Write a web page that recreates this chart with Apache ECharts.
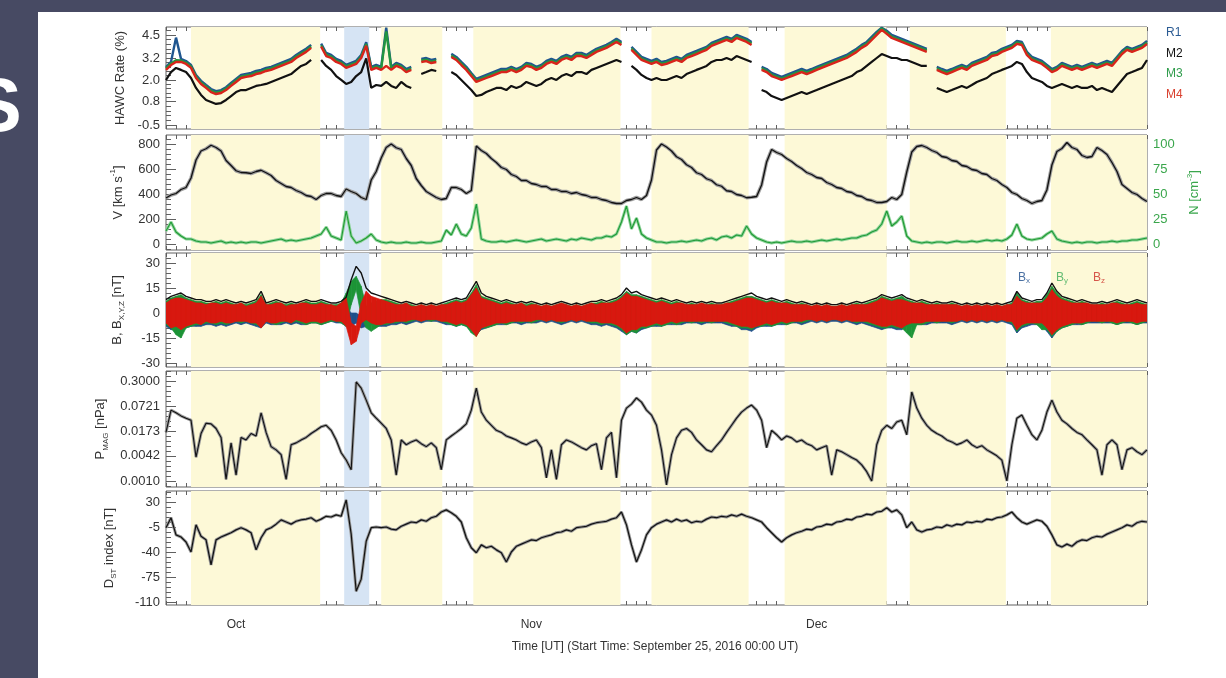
<!DOCTYPE html>
<html>
<head>
<meta charset="utf-8">
<script src="https://cdn.jsdelivr.net/npm/echarts@6/dist/echarts.min.js"></script>
<style>
html,body{margin:0;padding:0;background:#474a63;}
#chart{width:1226px;height:678px;}
</style>
</head>
<body>
<div id="chart"></div>
<script>
// Time base: days since 2016-09-25 00:00 UT, one sample every half day (197 samples).
const STEP = 0.5;

// HAWC scaler rates (%)
const hawcR1 = [
2.72,3.0,4.35,3.17,3.05,2.83,2.28,1.95,1.72,1.5,
1.38,1.44,1.6,1.84,2.06,2.28,2.34,2.39,2.5,2.56,
2.67,2.73,2.84,2.95,3.06,3.17,3.39,3.56,3.73,3.95,
null,4.02,3.5,3.39,3.17,3.06,2.84,2.95,3.06,3.39,
4.1,2.73,2.84,2.73,4.9,2.73,2.95,2.84,2.61,2.73,
null,3.17,3.22,3.11,3.17,null,null,3.45,3.28,3.0,
2.73,2.39,2.06,2.17,2.28,2.39,2.5,2.61,2.61,2.73,
2.61,2.73,2.95,2.89,2.73,2.84,3.06,3.17,3.06,3.28,
3.39,3.28,3.5,3.5,3.39,3.56,3.73,3.84,3.95,4.11,
4.28,4.11,null,3.84,3.56,3.28,3.17,3.06,3.17,3.0,
3.06,3.17,3.28,3.17,3.39,3.5,3.61,3.73,3.84,4.06,
4.17,4.28,4.39,4.28,4.5,4.39,4.28,4.11,null,2.73,
2.61,2.39,2.28,2.17,2.28,2.39,2.5,2.61,2.5,2.61,
2.73,2.84,2.95,3.06,3.17,3.28,3.39,3.56,3.73,3.95,
4.11,4.39,4.67,4.9,4.73,4.5,4.39,4.28,4.17,4.06,
3.95,3.84,3.73,null,2.73,2.61,2.5,2.61,2.73,2.84,
2.73,2.95,3.06,3.17,3.28,3.5,3.56,3.73,3.84,3.95,
4.17,4.11,3.56,3.28,3.17,3.06,2.84,2.61,2.73,2.95,
2.84,2.73,2.84,2.73,2.84,2.95,2.84,2.95,3.06,2.95,
3.28,3.61,3.84,3.73,3.84,3.95,4.17];
const hawcM2 = [
2.0,2.44,2.67,2.56,2.44,2.11,1.56,1.17,0.89,0.78,
0.67,0.72,0.89,1.11,1.33,1.44,1.44,1.56,1.67,1.72,
1.78,1.89,2.0,2.11,2.22,2.33,2.56,2.78,2.89,3.11,
null,3.11,2.78,2.56,2.22,2.0,1.78,1.89,2.22,2.44,
3.2,1.56,1.72,1.67,1.89,1.67,1.56,1.89,1.67,1.56,
null,2.33,2.44,2.56,2.5,null,null,2.44,2.28,2.0,
1.72,1.44,1.11,1.17,1.33,1.44,1.56,1.56,1.44,1.67,
1.56,1.67,1.89,1.78,1.67,1.78,2.0,2.11,2.0,2.22,
2.33,2.22,2.44,2.44,2.33,2.56,2.67,2.78,2.89,3.0,
3.11,3.0,null,2.78,2.56,2.28,2.11,2.0,2.11,2.0,
2.0,2.11,2.22,2.11,2.33,2.44,2.56,2.67,2.78,3.0,
3.11,3.11,3.22,3.11,3.33,3.22,3.11,3.0,null,1.44,
1.33,1.11,1.0,0.89,1.0,1.11,1.22,1.33,1.22,1.33,
1.44,1.56,1.67,1.78,1.89,2.0,2.11,2.22,2.44,2.56,
2.78,3.0,3.22,3.44,3.33,3.22,3.22,3.11,3.11,3.0,
2.89,2.78,2.78,null,1.56,1.44,1.33,1.44,1.56,1.67,
1.56,1.72,1.89,2.0,2.11,2.33,2.44,2.56,2.67,2.78,
3.0,2.89,2.44,2.11,2.0,1.89,1.67,1.56,1.67,1.78,
1.67,1.56,1.67,1.56,1.56,1.67,1.44,1.56,1.44,1.33,
1.67,2.0,2.33,2.44,2.56,2.67,3.11];
const hawcM3 = [
2.64,2.92,3.1,3.08,2.97,2.75,2.19,1.86,1.64,1.41,
1.3,1.36,1.52,1.75,1.97,2.19,2.25,2.3,2.41,2.47,
2.58,2.64,2.75,2.86,2.97,3.08,3.3,3.47,3.64,3.86,
null,3.93,3.41,3.3,3.08,2.97,2.75,2.86,2.97,3.3,
4.0,2.64,2.75,2.64,4.7,2.64,2.86,2.75,2.52,2.64,
null,3.08,3.13,3.02,3.08,null,null,3.36,3.19,2.91,
2.64,2.3,1.97,2.08,2.19,2.3,2.41,2.52,2.52,2.64,
2.52,2.64,2.86,2.8,2.64,2.75,2.97,3.08,2.97,3.19,
3.3,3.19,3.41,3.41,3.3,3.47,3.64,3.75,3.86,4.02,
4.19,4.02,null,3.75,3.47,3.19,3.08,2.97,3.08,2.91,
2.97,3.08,3.19,3.08,3.3,3.41,3.52,3.64,3.75,3.97,
4.08,4.19,4.3,4.19,4.41,4.3,4.19,4.02,null,2.64,
2.52,2.3,2.19,2.08,2.19,2.3,2.41,2.52,2.41,2.52,
2.64,2.75,2.86,2.97,3.08,3.19,3.3,3.47,3.64,3.86,
4.02,4.3,4.58,4.86,4.64,4.41,4.3,4.19,4.08,3.97,
3.86,3.75,3.64,null,2.64,2.52,2.41,2.52,2.64,2.75,
2.64,2.86,2.97,3.08,3.19,3.41,3.47,3.64,3.75,3.86,
4.08,4.02,3.47,3.19,3.08,2.97,2.75,2.52,2.64,2.86,
2.75,2.64,2.75,2.64,2.75,2.86,2.75,2.86,2.97,2.86,
3.19,3.52,3.75,3.64,3.75,3.86,4.08];
const hawcM4 = [
2.56,2.83,3.0,3.0,2.89,2.67,2.11,1.78,1.56,1.33,
1.22,1.28,1.44,1.67,1.89,2.11,2.17,2.22,2.33,2.39,
2.5,2.56,2.67,2.78,2.89,3.0,3.22,3.39,3.56,3.78,
null,3.85,3.33,3.22,3.0,2.89,2.67,2.78,2.89,3.22,
3.9,2.56,2.67,2.56,2.78,2.56,2.78,2.67,2.44,2.56,
null,3.0,3.05,2.94,3.0,null,null,3.28,3.11,2.83,
2.56,2.22,1.89,2.0,2.11,2.22,2.33,2.44,2.44,2.56,
2.44,2.56,2.78,2.72,2.56,2.67,2.89,3.0,2.89,3.11,
3.22,3.11,3.33,3.33,3.22,3.39,3.56,3.67,3.78,3.94,
4.11,3.94,null,3.67,3.39,3.11,3.0,2.89,3.0,2.83,
2.89,3.0,3.11,3.0,3.22,3.33,3.44,3.56,3.67,3.89,
4.0,4.11,4.22,4.11,4.33,4.22,4.11,3.94,null,2.56,
2.44,2.22,2.11,2.0,2.11,2.22,2.33,2.44,2.33,2.44,
2.56,2.67,2.78,2.89,3.0,3.11,3.22,3.39,3.56,3.78,
3.94,4.22,4.5,4.78,4.56,4.33,4.22,4.11,4.0,3.89,
3.78,3.67,3.56,null,2.56,2.44,2.33,2.44,2.56,2.67,
2.56,2.78,2.89,3.0,3.11,3.33,3.39,3.56,3.67,3.78,
4.0,3.94,3.39,3.11,3.0,2.89,2.67,2.44,2.56,2.78,
2.67,2.56,2.67,2.56,2.67,2.78,2.67,2.78,2.89,2.78,
3.11,3.44,3.67,3.56,3.67,3.78,4.0];

// Solar wind speed (km/s) and proton density (cm^-3)
const windSpeed = [
368,392,404,436,452,528,672,744,762,790,
772,744,668,628,586,572,570,564,580,590,
570,548,508,484,460,452,428,412,388,380,
356,388,404,404,388,380,440,420,404,372,
356,512,580,688,772,800,770,756,684,628,
524,468,420,396,372,356,364,452,452,436,
404,428,784,748,724,684,652,612,596,556,
540,508,508,484,476,460,460,436,436,420,
420,404,412,396,388,372,372,356,348,332,
324,324,348,356,372,356,388,512,752,800,
776,744,698,676,634,612,570,556,522,508,
474,462,426,420,396,388,370,374,380,472,
656,756,732,716,684,660,628,604,572,556,
532,524,492,476,452,444,420,412,388,380,
356,348,332,332,340,372,356,396,576,736,
780,788,772,748,732,700,692,668,660,628,
620,596,588,564,556,524,508,476,452,412,
396,364,348,324,340,348,432,632,740,764,
812,772,756,708,692,700,772,748,716,652,
580,476,444,412,396,364,340];
const density = [
13,22,12,8,5,5,3,2,2,1,
2,3,1,2,1,2,1,2,2,1,
2,3,4,5,3,4,3,4,5,6,
8,10,17,8,6,4,33,8,1,3,
6,10,4,2,1,2,1,1,2,1,
1,2,1,1,2,3,14,9,20,10,
8,16,40,5,3,2,2,3,2,3,
4,3,2,3,4,5,3,4,5,4,
3,5,4,6,5,4,6,6,8,7,
10,22,38,15,26,10,6,4,2,2,
1,2,2,3,2,3,4,3,5,6,
4,7,8,6,9,8,18,10,6,4,
2,1,2,1,2,3,2,2,3,2,
3,4,3,4,5,4,5,6,6,8,
9,12,14,20,33,18,22,28,8,3,
2,1,2,1,2,2,1,2,3,2,
2,3,2,3,4,3,4,3,5,9,
20,8,5,4,5,6,10,13,5,3,
2,1,2,1,2,2,1,2,2,3,
2,3,3,4,4,5,6];

// Magnetic field magnitude (nT)
const bTotal = [
8,10,11,12,10,9,8,8,7,7,
8,7,8,7,6,7,6,7,8,13,
6,7,8,7,6,7,6,7,8,7,
7,8,7,6,6,7,9.5,20,28,24,
15,12,11,10,9,8,7,6,7,6,
5,6,5,6,5,6,7,8,9,8,
9,14,19,12,10,9,8,7,8,7,
6,7,6,7,6,5,6,5,6,7,
6,5,6,5,6,7,7,8,7,8,
9,11,15,12,13,11,10,9,8,9,
8,7,8,7,6,7,6,7,6,7,
6,6,7,8,9,10,11,12,10,9,
8,9,8,7,8,7,6,7,6,5,
6,5,6,5,5,6,5,6,7,6,
7,8,9,11,10,9,10,11,9,8,
7,8,7,6,7,6,6,7,6,5,
6,5,6,5,6,5,6,5,6,7,
13,9,8,7,8,8,12,18,13,10,
9,8,7,8,7,6,6,7,6,7,
8,7,6,7,8,7,6];
// Component ranges (nT) within each half-day sample: low and high values
const bxLo = [
-8,-10,-10,-11,-9,-8,-8,-8,-7,-7,
-8,-7,-8,-7,-6,-7,-6,-7,-8,-9,
-6,-7,-7,-7,-6,-7,-6,-7,-7,-6,
-6,-7,-6,-5,-6,-6,-8,-8,-6,-9,
-8,-7,-8,-8,-8,-7,-7,-6,-7,-6,
-5,-6,-5,-5,-5,-6,-7,-7,-8,-7,
-8,-11,-13,-10,-9,-8,-7,-7,-7,-6,
-6,-7,-6,-6,-6,-5,-6,-5,-6,-7,
-6,-5,-6,-5,-6,-7,-7,-8,-7,-8,
-9,-11,-13,-11,-12,-10,-9,-8,-8,-8,
-7,-7,-7,-7,-6,-6,-6,-7,-6,-6,
-6,-6,-7,-8,-8,-10,-10,-11,-9,-8,
-8,-8,-7,-7,-7,-6,-6,-7,-6,-5,
-6,-5,-6,-5,-5,-6,-5,-6,-7,-6,
-7,-8,-9,-10,-9,-9,-10,-10,-8,-8,
-7,-7,-7,-6,-6,-6,-6,-7,-6,-5,
-6,-5,-6,-5,-6,-5,-6,-5,-6,-7,
-12,-9,-8,-7,-7,-8,-11,-15,-11,-9,
-8,-7,-7,-7,-6,-6,-6,-6,-6,-6,
-7,-6,-6,-6,-7,-6,-6];
const bxHi = [
4,5,5,6,4,4,3,3,3,3,
3,3,3,3,2,3,2,3,3,5,
2,3,3,3,2,3,2,3,3,3,
3,3,3,2,2,3,4,0,0,-2,
2,3,3,3,3,3,3,2,3,2,
2,2,2,2,2,2,3,3,3,3,
3,5,7,5,4,3,3,3,3,3,
2,3,2,3,2,2,2,2,2,3,
2,2,2,2,2,3,3,3,3,3,
4,5,6,5,5,4,4,3,3,3,
3,3,3,3,2,3,2,3,2,3,
2,2,3,3,3,4,4,5,4,3,
3,3,3,3,3,3,2,3,2,2,
2,2,2,2,2,2,2,2,3,2,
3,3,4,4,4,3,4,4,3,3,
3,3,3,2,3,2,2,3,2,2,
2,2,2,2,2,2,2,2,2,3,
5,3,3,3,3,3,5,7,5,4,
3,3,3,3,3,2,2,3,2,3,
3,3,2,3,3,3,2];
const byLo = [
-7,-9,-13,-15,-9,-8,-7,-7,-6,-6,
-7,-6,-7,-6,-5,-6,-5,-6,-7,-8,
-5,-6,-7,-6,-5,-6,-5,-6,-7,-6,
-6,-7,-6,-5,-5,-6,-8,5,14,-2,
-9,-11,-9,-7,-7,-6,-6,-5,-6,-5,
-4,-5,-4,-5,-4,-5,-6,-7,-8,-7,
-8,-12,-14,-9,-9,-8,-7,-6,-7,-6,
-5,-6,-5,-6,-5,-4,-5,-4,-5,-6,
-5,-4,-5,-4,-5,-6,-6,-7,-6,-7,
-8,-10,-13,-11,-12,-9,-9,-8,-7,-8,
-7,-6,-7,-6,-5,-6,-5,-6,-5,-6,
-5,-5,-6,-7,-8,-9,-9,-10,-8,-8,
-7,-8,-7,-6,-7,-6,-5,-6,-5,-4,
-5,-4,-5,-4,-4,-5,-4,-5,-6,-5,
-6,-7,-8,-9,-9,-8,-9,-9,-12,-15,
-7,-7,-6,-5,-6,-5,-5,-6,-5,-4,
-5,-4,-5,-4,-5,-4,-5,-4,-5,-6,
-11,-8,-7,-6,-7,-10,-10,-14,-11,-9,
-8,-7,-6,-7,-6,-5,-5,-6,-5,-6,
-7,-6,-5,-6,-7,-6,-5];
const byHi = [
7,9,10,11,9,8,7,7,6,6,
7,6,7,6,5,6,5,6,7,11,
5,6,7,6,5,6,5,6,7,6,
6,7,6,5,5,6,12,19,22,16,
4,6,7,8,8,7,6,5,6,5,
4,5,4,5,4,5,6,7,8,7,
8,12,17,10,9,8,7,6,7,6,
5,6,5,6,5,4,5,4,5,6,
5,4,5,4,5,6,6,7,6,7,
8,10,13,11,11,10,9,8,7,8,
7,6,7,6,5,6,5,6,5,6,
5,5,6,7,8,9,10,10,9,8,
7,8,7,6,7,6,5,6,5,4,
5,4,5,4,4,5,4,5,6,5,
6,7,8,10,9,8,9,10,8,7,
6,7,6,5,6,5,5,6,5,4,
5,4,5,4,5,4,5,4,5,6,
12,8,7,6,7,7,11,16,12,9,
8,7,6,7,6,5,5,6,5,6,
7,6,5,6,7,6,5];
const bzLo = [
-6,-9,-8,-10,-8,-7,-6,-7,-5,-6,
-6,-5,-6,-6,-5,-5,-5,-6,-6,-9,
-5,-6,-6,-5,-5,-6,-4,-5,-6,-5,
-5,-6,-5,-4,-5,-5,-8,-19,-17,-6,
-4,-6,-7,-7,-6,-6,-5,-5,-5,-4,
-4,-5,-4,-4,-4,-5,-5,-6,-7,-6,
-7,-10,-14,-9,-8,-7,-6,-6,-6,-5,
-5,-5,-5,-5,-4,-4,-5,-4,-5,-5,
-5,-4,-5,-4,-5,-5,-5,-6,-6,-6,
-7,-9,-12,-10,-10,-8,-8,-7,-6,-7,
-6,-5,-6,-5,-5,-5,-5,-5,-5,-5,
-5,-5,-5,-6,-7,-8,-8,-9,-8,-7,
-6,-7,-6,-5,-6,-5,-5,-5,-4,-4,
-5,-4,-5,-4,-4,-5,-4,-5,-5,-5,
-5,-6,-7,-8,-8,-7,-8,-9,-7,-6,
-6,-6,-5,-5,-5,-5,-5,-5,-5,-4,
-5,-4,-5,-4,-5,-4,-5,-4,-5,-5,
-10,-7,-6,-6,-6,-6,-9,-13,-10,-8,
-7,-6,-6,-6,-5,-5,-5,-5,-5,-5,
-6,-5,-5,-5,-6,-5,-5];
const bzHi = [
6,8,9,9,8,7,6,6,5,6,
6,5,6,5,5,6,4,5,6,10,
5,5,6,6,4,5,5,6,6,5,
5,6,5,5,4,6,9,-6,-8,6,
13,10,9,8,7,6,5,5,6,4,
4,5,4,5,4,5,5,6,7,6,
7,11,15,9,8,7,6,5,6,5,
5,6,4,5,5,4,5,4,5,6,
5,4,5,4,5,6,5,6,6,6,
7,9,12,10,10,9,8,7,6,7,
6,5,6,6,5,5,5,6,5,5,
5,5,6,6,7,8,9,9,8,7,
6,7,6,6,6,5,5,5,5,4,
5,4,5,4,4,5,4,5,5,5,
5,6,7,9,8,7,8,8,7,6,
6,6,5,5,5,5,5,5,5,4,
5,4,5,4,5,4,5,4,5,5,
10,7,6,6,6,6,9,14,10,8,
7,6,6,6,6,5,5,5,5,6,
6,5,5,5,6,5,5];

// Magnetic pressure (nPa)
const pMag = [
0.016,0.057,0.049,0.041,0.036,0.032,0.0039,0.015,0.027,0.026,
0.020,0.012,0.0011,0.0088,0.0014,0.012,0.0104,0.015,0.013,0.049,
0.016,0.0071,0.0059,0.0045,0.0011,0.0079,0.0088,0.0104,0.012,0.015,
0.018,0.022,0.024,0.018,0.0104,0.0050,0.0033,0.0019,0.284,0.20,
0.101,0.049,0.036,0.027,0.020,0.0104,0.0014,0.0104,0.0079,0.0093,
0.0104,0.0084,0.0071,0.0088,0.0067,0.0019,0.0104,0.013,0.016,0.020,
0.026,0.057,0.20,0.051,0.032,0.024,0.018,0.016,0.013,0.0117,
0.0104,0.0088,0.0079,0.0093,0.0104,0.0067,0.0012,0.0059,0.0011,0.0079,
0.0104,0.0093,0.0079,0.0067,0.0059,0.0075,0.0084,0.0019,0.0117,0.016,
0.0012,0.032,0.064,0.080,0.114,0.090,0.057,0.043,0.024,0.0059,
0.0008,0.0045,0.0117,0.018,0.020,0.016,0.0104,0.0079,0.0059,0.0053,
0.0075,0.0104,0.016,0.024,0.036,0.051,0.064,0.076,0.057,0.032,
0.0067,0.018,0.014,0.0104,0.013,0.0117,0.0093,0.0104,0.0084,0.0075,
0.0059,0.0067,0.0075,0.0014,0.0059,0.0053,0.0045,0.0038,0.0033,0.0025,
0.0017,0.0010,0.0079,0.018,0.024,0.020,0.029,0.032,0.014,0.160,
0.064,0.036,0.024,0.018,0.015,0.013,0.0104,0.0093,0.0079,0.0088,
0.0104,0.0079,0.0067,0.0075,0.0059,0.0050,0.0042,0.0033,0.0010,0.0079,
0.036,0.043,0.024,0.014,0.0104,0.018,0.051,0.101,0.051,0.032,
0.026,0.020,0.016,0.014,0.0104,0.0079,0.0059,0.0014,0.0079,0.0104,
0.0079,0.0019,0.0059,0.0067,0.0053,0.0045,0.0059];

// Dst index (nT)
const dst = [
-6,8,-16,-19,-26,-40,-2,-18,-23,-58,
-23,-19,-16,-13,-9,-6,-9,-13,-37,-20,
-9,-6,-1,5,2,-1,3,5,6,8,
3,6,10,9,12,10,33,-15,-95,-78,
-25,-6,-5,-6,-5,-8,-9,-4,-1,2,
1,5,3,8,10,16,19,15,10,2,
-20,-34,-41,-30,-34,-32,-37,-41,-54,-40,
-32,-29,-26,-23,-24,-20,-18,-16,-13,-12,
-9,-11,-6,-5,-4,-1,1,2,3,6,
8,16,-2,-30,-54,-37,-16,-6,-1,2,
5,2,6,3,5,1,3,2,6,9,
8,10,9,12,10,13,10,8,5,2,
-6,-13,-20,-26,-20,-16,-13,-11,-8,-9,
-5,-4,-1,-2,2,3,6,5,9,10,
13,12,16,17,22,16,19,12,-6,2,
-9,-12,-9,-8,-5,-6,-2,-4,-1,-2,
2,1,3,2,6,5,8,9,12,16,
8,2,-1,2,5,3,-4,-16,-30,-33,
-29,-32,-26,-23,-24,-20,-18,-19,-15,-12,
-9,-6,-2,-4,1,3,2];

// Intervals (days) of high-speed streams and of the interplanetary CME
const streamPeriods = [[2.5,15.4],[21.5,27.6],[30.7,45.4],[48.5,58.2],[61.8,72.0],[74.3,83.9],[88.4,98]];
const cmePeriods = [[17.8,20.3]];

// Tick values and labels
const monthTicks = [7, 36.5, 65];
const monthLabels = ['Oct', 'Nov', 'Dec'];
const hawcTicks = [-0.5, 0.8, 2.0, 3.2, 4.5];
const hawcTickLabels = ['-0.5', '0.8', '2.0', '3.2', '4.5'];
const vTicks = [0, 200, 400, 600, 800];
const nTicks = [0, 25, 50, 75, 100];
const bTicks = [-30, -15, 0, 15, 30];
const pTicks = [0.0010, 0.0042, 0.0173, 0.0721, 0.3000];
const pTickLabels = ['0.0010', '0.0042', '0.0173', '0.0721', '0.3000'];
const dstTicks = [-110, -75, -40, -5, 30];

// ---------------------------------------------------------------------------
const FONT = '"Liberation Sans", Arial, Helvetica, sans-serif';
const INK = '#333333';
const FRAME = '#606060';
const GREEN_AX = '#3aa64c';
const DAYS = 98;

const toPairs = (arr, tf) => arr.map((v, k) => [k * STEP, v == null ? null : (tf ? tf(v) : v)]);

function minors(ticks, min, max, n) {
  const out = [];
  for (let k = 0; k < ticks.length - 1; k++) {
    const d = (ticks[k + 1] - ticks[k]) / n;
    for (let s = 1; s < n; s++) out.push(ticks[k] + s * d);
  }
  const d0 = (ticks[1] - ticks[0]) / n;
  const d1 = (ticks[ticks.length - 1] - ticks[ticks.length - 2]) / n;
  for (let v = ticks[0] - d0; v > min; v -= d0) out.push(v);
  for (let v = ticks[ticks.length - 1] + d1; v < max; v += d1) out.push(v);
  return out;
}
const labelFor = (ticks, labels) => v => {
  let b = 0;
  ticks.forEach((t, k) => { if (Math.abs(t - v) < Math.abs(ticks[b] - v)) b = k; });
  return labels[b];
};

const richName = {
  n: { fontSize: 13, fontFamily: FONT, lineHeight: 18, verticalAlign: 'middle' },
  sub: { fontSize: 8, fontFamily: FONT, lineHeight: 18, verticalAlign: 'bottom' },
  sup: { fontSize: 8, fontFamily: FONT, lineHeight: 18, verticalAlign: 'top' }
};

const panels = [
  { top: 27,  height: 102, min: -0.72,  max: 4.94,   ticks: hawcTicks, labels: hawcTickLabels, name: '{n|HAWC Rate (%)}', gap: 37 },
  { top: 135, height: 115, min: -48,    max: 872,    ticks: vTicks, labels: vTicks.map(String), name: '{n|V [km s}{sup|-1}{n|]}', gap: 39 },
  { top: 253, height: 114, min: -32.4,  max: 36,     ticks: bTicks, labels: bTicks.map(String), name: '{n|B, B}{sub|X,Y,Z}{n| [nT]}', gap: 40 },
  { top: 371, height: 116, min: -3.149, max: -0.275, ticks: pTicks.map(Math.log10), labels: pTickLabels, name: '{n|P}{sub|MAG}{n| [nPa]}', gap: 55 },
  { top: 491, height: 114, min: -114.2, max: 45.4,   ticks: dstTicks, labels: dstTicks.map(String), name: '{n|D}{sub|ST}{n| index [nT]}', gap: 48 }
];

const dayTicks = Array.from({ length: DAYS + 1 }, (_, d) => d);
const grid = [], xAxis = [], yAxis = [];

panels.forEach((p, g) => {
  grid.push({ left: 166, width: 981, top: p.top, height: p.height, show: true,
    borderColor: FRAME, borderWidth: 1, backgroundColor: 'transparent' });

  const xBase = { gridIndex: g, type: 'value', min: 0, max: DAYS, splitLine: { show: false },
    axisLine: { show: false, onZero: false } };
  // bottom: day ticks and (last panel) month labels
  xAxis.push(Object.assign({}, xBase, { position: 'bottom',
    axisTick: { inside: true, length: 4, customValues: dayTicks, lineStyle: { color: FRAME } },
    axisLabel: g === panels.length - 1
      ? { show: true, customValues: monthTicks, formatter: labelFor(monthTicks, monthLabels),
          color: INK, fontFamily: FONT, fontSize: 12, margin: 14 }
      : { show: false } }));
  xAxis.push(Object.assign({}, xBase, { position: 'bottom', axisTick: { show: false }, axisLabel: { show: false } }));
  xAxis.push(Object.assign({}, xBase, { position: 'top',
    axisTick: { inside: true, length: 4, customValues: dayTicks, lineStyle: { color: FRAME } },
    axisLabel: { show: false } }));
  xAxis.push(Object.assign({}, xBase, { position: 'top', axisTick: { show: false }, axisLabel: { show: false } }));

  const yBase = { gridIndex: g, type: 'value', min: p.min, max: p.max, splitLine: { show: false },
    axisLine: { show: false, onZero: false } };
  const minorVals = minors(p.ticks, p.min, p.max, 5);
  yAxis.push(Object.assign({}, yBase, { position: 'left',
    name: p.name, nameLocation: 'middle', nameRotate: 90, nameGap: p.gap,
    nameTextStyle: { color: INK, fontFamily: FONT, fontSize: 13, rich: richName },
    axisTick: { inside: true, length: 10, customValues: p.ticks, lineStyle: { color: FRAME } },
    axisLabel: { customValues: p.ticks, formatter: labelFor(p.ticks, p.labels), color: INK,
      fontFamily: FONT, fontSize: 13, margin: 6 } }));
  yAxis.push(Object.assign({}, yBase, { position: 'left',
    axisTick: { inside: true, length: 5, customValues: minorVals, lineStyle: { color: FRAME } },
    axisLabel: { show: false } }));
  if (g === 1) {
    const nMin = p.min / 8, nMax = p.max / 8;
    const nMinor = minors(nTicks, nMin, nMax, 5);
    yAxis.push({ gridIndex: g, type: 'value', min: nMin, max: nMax, position: 'right', splitLine: { show: false },
      axisLine: { show: false, onZero: false },
      name: '{n|N [cm}{sup|-3}{n|]}', nameLocation: 'middle', nameRotate: 90, nameGap: 28,
      nameTextStyle: { color: GREEN_AX, fontFamily: FONT, fontSize: 13, rich: richName },
      axisTick: { inside: true, length: 10, customValues: nTicks, lineStyle: { color: GREEN_AX } },
      axisLabel: { customValues: nTicks, formatter: v => String(Math.round(v)), color: GREEN_AX,
        fontFamily: FONT, fontSize: 13, margin: 6 } });
    yAxis.push({ gridIndex: g, type: 'value', min: nMin, max: nMax, position: 'right', splitLine: { show: false },
      axisLine: { show: false, onZero: false },
      axisTick: { inside: true, length: 5, customValues: nMinor, lineStyle: { color: GREEN_AX } },
      axisLabel: { show: false } });
  } else {
    yAxis.push(Object.assign({}, yBase, { position: 'right',
      axisTick: { inside: true, length: 10, customValues: p.ticks, lineStyle: { color: FRAME } },
      axisLabel: { show: false } }));
    yAxis.push(Object.assign({}, yBase, { position: 'right',
      axisTick: { inside: true, length: 5, customValues: minorVals, lineStyle: { color: FRAME } },
      axisLabel: { show: false } }));
  }
});

const series = [];
const ax = g => ({ xAxisIndex: 4 * g, yAxisIndex: 4 * g });

// shaded event intervals behind every panel
panels.forEach((p, g) => {
  series.push(Object.assign({ type: 'line', data: [], z: 1, silent: true,
    markArea: { silent: true, data:
      streamPeriods.map(([a, b]) => [{ xAxis: a, itemStyle: { color: '#fdf9d7', opacity: 1 } }, { xAxis: b }])
      .concat(cmePeriods.map(([a, b]) => [{ xAxis: a, itemStyle: { color: '#d6e4f4', opacity: 1 } }, { xAxis: b }])) } }, ax(g)));
});

function line(g, data, color, width, extra) {
  return Object.assign({ type: 'line', data, symbol: 'none', silent: true, animation: false,
    lineStyle: { color, width }, z: 3 }, ax(g), extra || {});
}

// Panel 1: HAWC rates
series.push(line(0, toPairs(hawcR1), '#1f558f', 2.4));
series.push(line(0, toPairs(hawcM3), '#22963f', 2.4));
series.push(line(0, toPairs(hawcM4), '#d8241b', 2.4));
series.push(line(0, toPairs(hawcM2), '#111111', 2.2));

// Panel 2: speed and density
series.push(line(1, toPairs(density), '#8fd39a', 3, { xAxisIndex: 4, yAxisIndex: 6 }));
series.push(line(1, toPairs(density), '#1f9a35', 1.1, { xAxisIndex: 4, yAxisIndex: 6 }));
series.push(line(1, toPairs(windSpeed), '#a0a0a0', 3.5));
series.push(line(1, toPairs(windSpeed), '#111111', 1.3));

// Panel 3: each field component drawn as the filled range between its low and high values
function band(lo, hi, color) {
  series.push(Object.assign({
    type: 'custom', silent: true, z: 3, clip: true,
    data: lo.map((v, k) => [k * STEP, v, hi[k]]),
    encode: { x: 0, y: [1, 2] },
    renderItem: (params, api) => {
      const k = params.dataIndex;
      if (k >= lo.length - 1) return null;
      const t0 = api.value(0), t1 = t0 + STEP;
      const pts = [
        api.coord([t0, api.value(1)]), api.coord([t1, lo[k + 1]]),
        api.coord([t1, hi[k + 1]]), api.coord([t0, api.value(2)])
      ];
      return { type: 'polygon', shape: { points: pts },
        style: { fill: color, stroke: color, lineWidth: 0.7 } };
    }
  }, ax(2)));
}
band(bxLo, bxHi, '#1f4f8a');
band(byLo, byHi, '#1c9436');
band(bzLo, bzHi, '#d8180f');
series.push(line(2, toPairs(bTotal), '#111111', 1.4, { z: 4 }));

// Panel 4: magnetic pressure on a logarithmic scale
series.push(line(3, toPairs(pMag, Math.log10), '#9a9a9a', 3));
series.push(line(3, toPairs(pMag, Math.log10), '#111111', 1.1));

// Panel 5: Dst
series.push(line(4, toPairs(dst), '#9a9a9a', 3));
series.push(line(4, toPairs(dst), '#111111', 1.2));

const legendText = (x, y, text, fill) => ({ type: 'text', x, y, silent: true, z: 10,
  style: { text, fill, font: '12px ' + FONT, textVerticalAlign: 'middle' } });
const subLabel = (x, y, sub, fill) => ({ type: 'text', x, y, z: 10, silent: true,
  style: { text: '{b|B}{s|' + sub + '}', fill,
    rich: { b: { fontSize: 12, fill, fontFamily: FONT }, s: { fontSize: 8, fill, fontFamily: FONT, padding: [6, 0, 0, 0] } } } });

const option = {
  backgroundColor: '#474a63',
  animation: false,
  grid, xAxis, yAxis, series,
  graphic: [
    { type: 'rect', shape: { x: 38, y: 12, width: 1188, height: 666 }, style: { fill: '#ffffff' }, z: -10, silent: true },
    { type: 'text', x: -29, y: 72, z: -5, silent: true,
      style: { text: 'S', fill: '#ffffff', font: 'bold 76px ' + FONT } },
    legendText(1166, 33, 'R1', '#2b5b93'),
    legendText(1166, 54, 'M2', '#111111'),
    legendText(1166, 74, 'M3', '#2f9c4c'),
    legendText(1166, 95, 'M4', '#d9402f'),
    subLabel(1018, 271, 'x', '#4a70a2'),
    subLabel(1056, 271, 'y', '#62bb72'),
    subLabel(1093, 271, 'z', '#d6564a'),
    { type: 'text', x: 655, y: 647, z: 10, silent: true,
      style: { text: 'Time [UT] (Start Time: September 25, 2016 00:00 UT)', fill: INK,
        font: '12px ' + FONT, textAlign: 'center', textVerticalAlign: 'middle' } }
  ]
};

const chart = echarts.init(document.getElementById('chart'));
chart.setOption(option);
</script>
</body>
</html>
